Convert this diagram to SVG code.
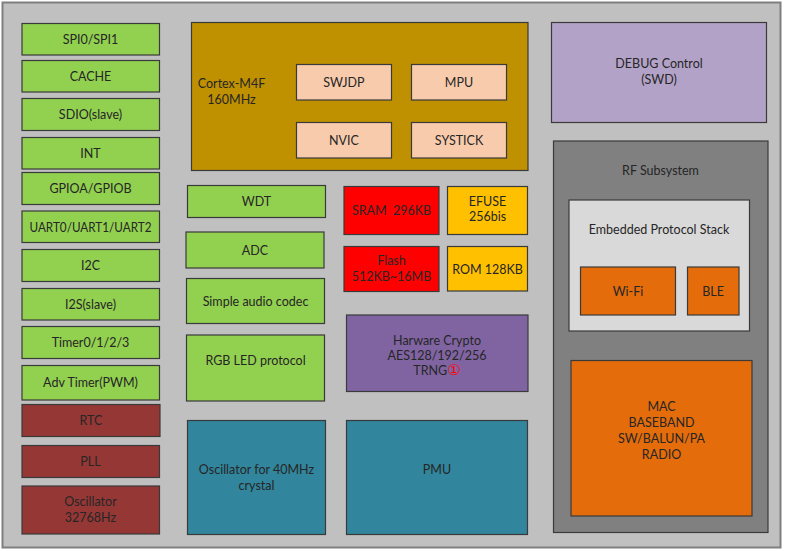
<svg xmlns="http://www.w3.org/2000/svg" width="785" height="551" viewBox="0 0 785 551">
<style>
text{font-family:Lato,"Liberation Sans",sans-serif;font-size:12.5px;fill:#262626;text-anchor:middle}
.b{stroke:#3a3a3a;stroke-width:1.2}
.g{fill:#92d050}
.r{fill:#953735}
.pe{fill:#f8cbad}
.red{fill:#ff0000}
.y{fill:#ffc000}
.t{fill:#31859c}
.o{fill:#e46c0a}
</style>
<rect x="2.5" y="2.5" width="778" height="545" fill="#c0c0c0" stroke="#7f7f7f" stroke-width="2"/>
<g id="connectors"/>
<g id="spi"><rect class="b g" x="22" y="23.5" width="137.5" height="31.5"/><text x="90.5" y="44">SPI0/SPI1</text></g>
<g id="cache"><rect class="b g" x="22" y="60.5" width="137.5" height="31.5"/><text x="90.5" y="81">CACHE</text></g>
<g id="sdio"><rect class="b g" x="22" y="98.5" width="137.5" height="32"/><text x="90.5" y="119">SDIO(slave)</text></g>
<g id="int"><rect class="b g" x="22" y="137.5" width="137.5" height="31.5"/><text x="90.5" y="158">INT</text></g>
<g id="gpio"><rect class="b g" x="22" y="172.5" width="137.5" height="32"/><text x="90.5" y="193">GPIOA/GPIOB</text></g>
<g id="uart"><rect class="b g" x="22" y="211" width="137.5" height="31.5"/><text x="90.5" y="231.5" textLength="122" lengthAdjust="spacingAndGlyphs">UART0/UART1/UART2</text></g>
<g id="i2c"><rect class="b g" x="22" y="249.5" width="137.5" height="32"/><text x="90.5" y="270">I2C</text></g>
<g id="i2s"><rect class="b g" x="22" y="288.5" width="137.5" height="31.5"/><text x="90.5" y="309">I2S(slave)</text></g>
<g id="timer"><rect class="b g" x="22" y="326.5" width="137.5" height="32"/><text x="90.5" y="347">Timer0/1/2/3</text></g>
<g id="advtimer"><rect class="b g" x="22" y="365.5" width="137.5" height="34.5"/><text x="90.5" y="387">Adv Timer(PWM)</text></g>
<g id="rtc"><rect class="b r" x="22" y="404.5" width="138" height="32"/><text x="91" y="425">RTC</text></g>
<g id="pll"><rect class="b r" x="22" y="445.5" width="137.5" height="32"/><text x="90.5" y="466">PLL</text></g>
<g id="osc32"><rect class="b r" x="22" y="486" width="137.5" height="48"/><text x="90.5" y="506">Oscillator</text><text x="90.5" y="522">32768Hz</text></g>
<g id="cortex"><rect class="b" fill="#bf9000" x="191.5" y="22.5" width="336.5" height="148"/><text x="231.5" y="88">Cortex-M4F</text><text x="231.5" y="104">160MHz</text></g>
<g id="swjdp"><rect class="b pe" x="296.5" y="64.5" width="95" height="35.5"/><text x="344" y="86.5">SWJDP</text></g>
<g id="mpu"><rect class="b pe" x="411.5" y="64.5" width="95" height="35.5"/><text x="459" y="86.5">MPU</text></g>
<g id="nvic"><rect class="b pe" x="296.5" y="122.5" width="95" height="35.5"/><text x="344" y="144.5">NVIC</text></g>
<g id="systick"><rect class="b pe" x="411.5" y="122.5" width="95" height="35.5"/><text x="459" y="144.5">SYSTICK</text></g>
<g id="wdt"><rect class="b g" x="187.5" y="185.5" width="138" height="32"/><text x="256.5" y="206">WDT</text></g>
<g id="adc"><rect class="b g" x="186" y="232" width="138" height="36"/><text x="255" y="254.5">ADC</text></g>
<g id="audio"><rect class="b g" x="186.5" y="278.5" width="138" height="45"/><text x="255.5" y="305.5">Simple audio codec</text></g>
<g id="rgb"><rect class="b g" x="186.5" y="335" width="138" height="66"/><text x="255.5" y="364.5">RGB LED protocol</text></g>
<g id="sram"><rect class="b red" x="344" y="186.5" width="95" height="48"/><text x="391.5" y="215" xml:space="preserve">SRAM  296KB</text></g>
<g id="efuse"><rect class="b y" x="447.5" y="186.5" width="80" height="48"/><text x="487.5" y="206">EFUSE</text><text x="487.5" y="221">256bis</text></g>
<g id="flash"><rect class="b red" x="344" y="246.5" width="95" height="45"/><text x="391.5" y="265">Flash</text><text x="391.5" y="281">512KB~16MB</text></g>
<g id="rom"><rect class="b y" x="447.5" y="246.5" width="80" height="44.5"/><text x="487.5" y="273.5">ROM 128KB</text></g>
<g id="crypto"><rect class="b" fill="#8064a2" x="346.5" y="315" width="181.5" height="76.5"/><text x="437" y="344.5">Harware Crypto</text><text x="437" y="359.5">AES128/192/256</text><text x="437" y="375">TRNG<tspan fill="#ff0000" style="font-family:'DejaVu Sans',sans-serif;font-size:15px">①</tspan></text></g>
<g id="osc40"><rect class="b t" x="187.5" y="420.5" width="138" height="114"/><text x="256.5" y="474">Oscillator for 40MHz</text><text x="256.5" y="489.5">crystal</text></g>
<g id="pmu"><rect class="b t" x="346.5" y="420.5" width="181" height="114"/><text x="437" y="474">PMU</text></g>
<g id="debug"><rect class="b" fill="#b3a2c7" x="551.5" y="22.5" width="215" height="100"/><text x="659" y="68">DEBUG Control</text><text x="659" y="84">(SWD)</text></g>
<g id="rf"><rect class="b" fill="#808080" x="553.5" y="141" width="214.5" height="391.5"/><text x="660.5" y="174.5">RF Subsystem</text></g>
<g id="stack"><rect class="b" fill="#d9d9d9" x="569" y="200" width="180.5" height="131"/><text x="659" y="233.5">Embedded Protocol Stack</text></g>
<g id="wifi"><rect class="b o" x="580.5" y="267" width="95" height="48"/><text x="628" y="295.5">Wi-Fi</text></g>
<g id="ble"><rect class="b o" x="687.5" y="267" width="51.5" height="48"/><text x="713" y="295.5">BLE</text></g>
<g id="mac"><rect class="b o" x="571" y="360.5" width="181" height="155.5"/><text x="661.5" y="410.5">MAC</text><text x="661.5" y="426.5">BASEBAND</text><text x="661.5" y="443">SW/BALUN/PA</text><text x="661.5" y="459">RADIO</text></g>
</svg>
